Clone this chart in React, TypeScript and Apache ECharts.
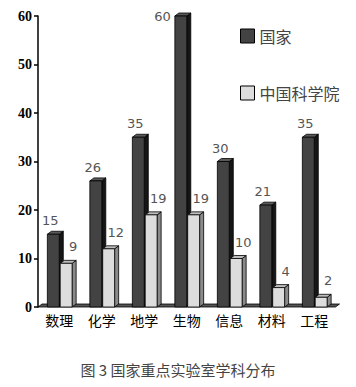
import React, { useEffect, useRef } from "react";
import * as echarts from "echarts";

const categories = ["数理", "化学", "地学", "生物", "信息", "材料", "工程"];
const nationalValues = [15, 26, 35, 60, 30, 21, 35];
const casValues = [9, 12, 19, 19, 10, 4, 2];
const seriesNames = ["国家", "中国科学院"];
const yTicks = { min: 0, max: 60, interval: 10 };
const captionText = "图 3 国家重点实验室学科分布";

type BarStyle = {
  front: string;
  side: string;
  top: string;
  startFactor: number;
  labelDx: number;
  labelGap: number;
};

const darkStyle: BarStyle = { front: "#434343", side: "#161616", top: "#5a5a5a", startFactor: -1.0, labelDx: -3, labelGap: 7 };
const lightStyle: BarStyle = { front: "#dddddd", side: "#8a8a8a", top: "#bdbdbd", startFactor: 0.08, labelDx: 7, labelGap: 10 };

function makeRenderItem(st: BarStyle) {
  return (params: any, api: any) => {
    const idx = api.value(0);
    const val = api.value(1);
    const topPt = api.coord([idx, val]);
    const basePt = api.coord([idx, 0]);
    const bw = api.size([1, 0])[0] * 0.28;
    const dx = bw * 0.34;
    const dy = 3;
    const cx = topPt[0];
    const x0 = cx + st.startFactor * bw;
    const x1 = x0 + bw;
    const yt = topPt[1];
    const yb = basePt[1];
    const cs = params.coordSys;
    const lineStyle = { stroke: "#000", lineWidth: 0.8 };
    const frontCenter = (x0 + x1) / 2;
    const tooHigh = yt - dy - 16 < cs.y;
    const textBase = { text: String(val), fill: "#555", stroke: null, lineWidth: 0, font: "13px 'DejaVu Sans'" };
    const label = tooHigh
      ? { type: "text", style: { ...textBase, x: x0 - 4, y: yt, align: "right", verticalAlign: "middle" } }
      : { type: "text", style: { ...textBase, x: frontCenter + st.labelDx, y: yt - st.labelGap, align: "center", verticalAlign: "bottom" } };
    return {
      type: "group",
      children: [
        { type: "polygon", shape: { points: [[x1, yb], [x1, yt], [x1 + dx, yt - dy], [x1 + dx, yb - dy]] }, style: { fill: st.side, ...lineStyle } },
        { type: "polygon", shape: { points: [[x0, yt], [x0 + dx, yt - dy], [x1 + dx, yt - dy], [x1, yt]] }, style: { fill: st.top, ...lineStyle } },
        { type: "rect", shape: { x: x0, y: yt, width: bw, height: yb - yt }, style: { fill: st.front, ...lineStyle } },
        label,
      ],
    };
  };
}

function floorRenderItem(params: any, api: any) {
  const cs = params.coordSys;
  const base = api.coord([0, 0])[1];
  const x0 = cs.x;
  const x1 = cs.x + cs.width;
  return {
    type: "polygon",
    shape: { points: [[x0, base], [x0 + 4, base - 3], [x1 + 4, base - 3], [x1, base]] },
    style: { fill: "#555", stroke: "#000", lineWidth: 0.8 },
  };
}

export default function App() {
  const ref = useRef<HTMLDivElement>(null);
  useEffect(() => {
    if (!ref.current) return;
    const chart = echarts.init(ref.current, null, { renderer: "svg" });
    chart.setOption({
      animation: false,
      backgroundColor: "#fff",
      grid: { left: 38, right: 20.5, top: 16, bottom: 80, containLabel: false },
      legend: {
        data: seriesNames,
        orient: "vertical",
        left: 240,
        top: 28,
        padding: 0,
        itemWidth: 14,
        itemHeight: 14,
        itemGap: 41,
        icon: "rect",
        itemStyle: { borderColor: "#000", borderWidth: 1 },
        textStyle: { fontSize: 16, color: "#444", fontFamily: "'Noto Sans CJK SC'" },
      },
      xAxis: {
        type: "category",
        data: categories,
        axisLine: { show: false },
        axisTick: { show: false },
        axisLabel: { color: "#000", fontSize: 14, margin: 6, fontFamily: "'Noto Sans CJK SC'" },
      },
      yAxis: {
        type: "value",
        min: yTicks.min,
        max: yTicks.max,
        interval: yTicks.interval,
        axisLine: { show: true, lineStyle: { color: "#000", width: 1.5 } },
        axisTick: { show: true, length: 4, lineStyle: { color: "#000", width: 1.5 } },
        splitLine: { show: false },
        axisLabel: { color: "#000", fontSize: 14, fontWeight: "bold", fontFamily: "'Liberation Serif'", margin: 6 },
      },
      graphic: [
        {
          type: "text",
          left: "center",
          top: 362,
          style: { text: captionText, font: "15px 'Noto Sans CJK SC'", fill: "#444" },
        },
      ],
      series: [
        {
          type: "custom",
          name: "floor",
          data: [[0, 0]],
          renderItem: floorRenderItem,
          z: 1,
          silent: true,
        },
        {
          type: "custom",
          name: seriesNames[0],
          data: nationalValues.map((v, i) => [i, v]),
          encode: { x: 0, y: 1 },
          itemStyle: { color: "#434343" },
          renderItem: makeRenderItem(darkStyle),
          z: 2,
        },
        {
          type: "custom",
          name: seriesNames[1],
          data: casValues.map((v, i) => [i, v]),
          encode: { x: 0, y: 1 },
          itemStyle: { color: "#dddddd" },
          renderItem: makeRenderItem(lightStyle),
          z: 3,
        },
      ],
    });
    return () => chart.dispose();
  }, []);
  return <div ref={ref} style={{ position: "fixed", left: 0, top: 0, width: 356, height: 387 }} />;
}
